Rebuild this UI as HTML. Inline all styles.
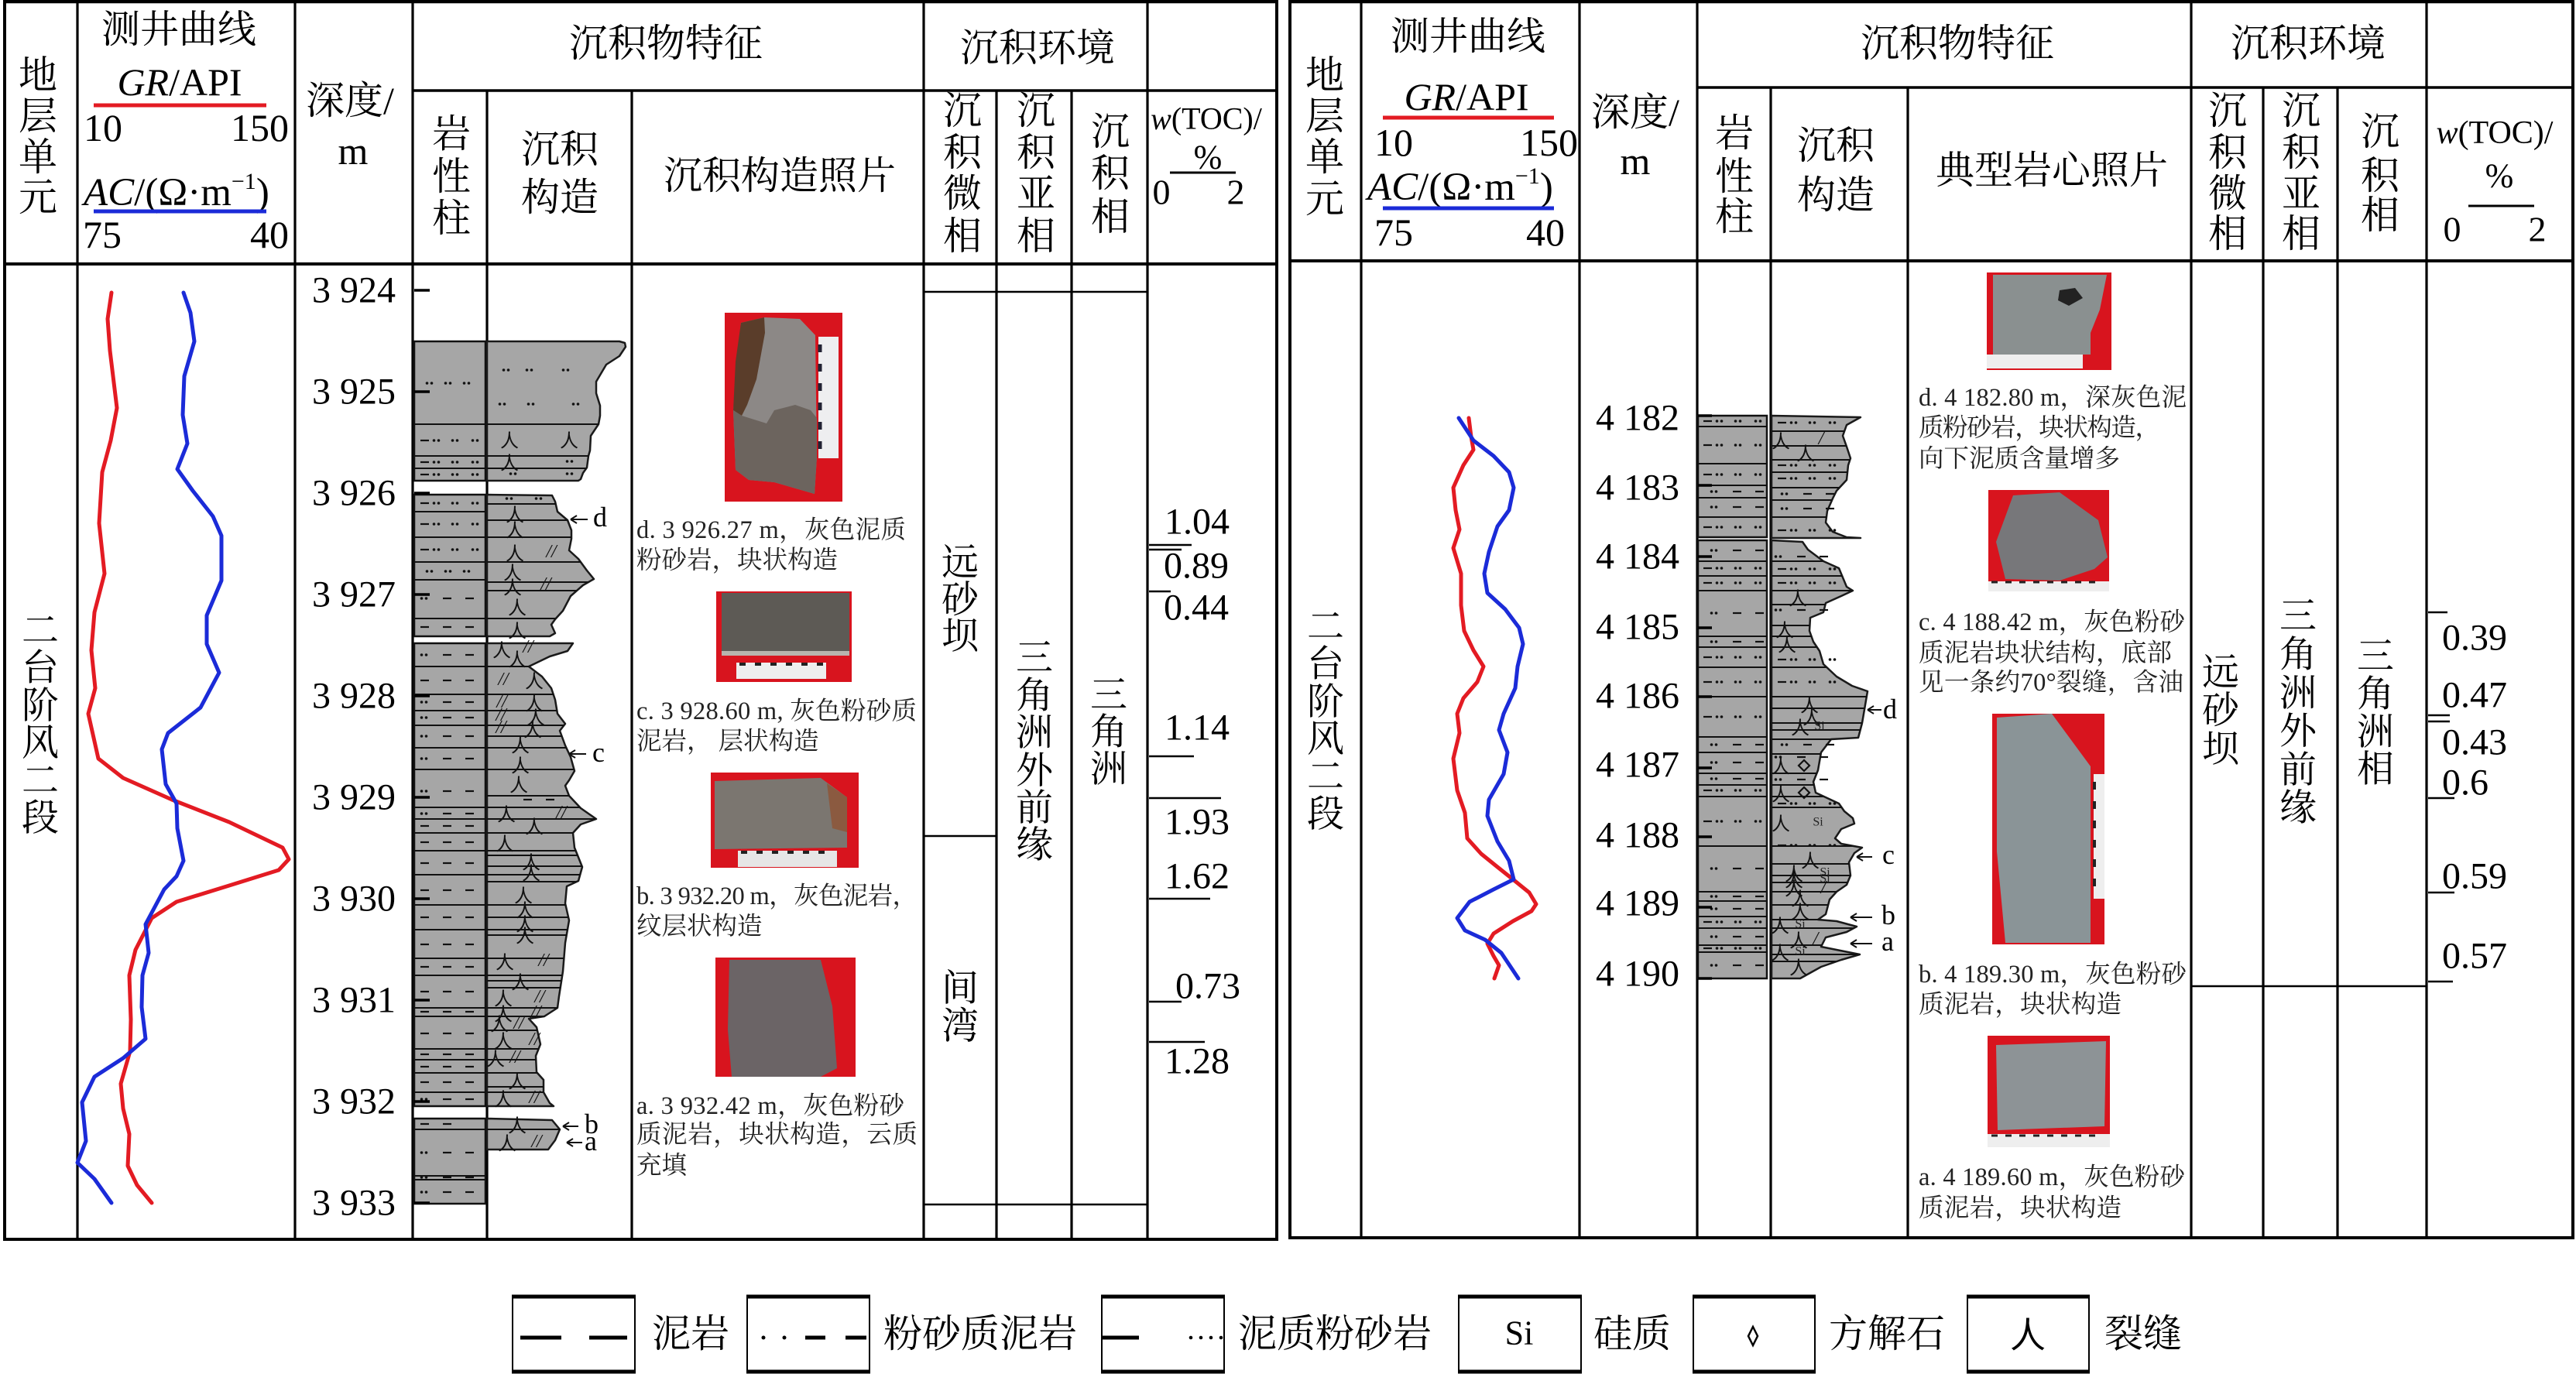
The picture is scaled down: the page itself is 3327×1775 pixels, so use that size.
<!DOCTYPE html>
<html><head><meta charset="utf-8">
<style>
html,body{margin:0;padding:0;background:#fff;width:3327px;height:1775px;overflow:hidden}
svg{display:block}
text{font-family:"Liberation Serif","Noto Serif CJK SC",serif;fill:#000}
.c{dominant-baseline:central;text-anchor:middle}
.cap{font-size:32.5px;fill:#222}
.sym{font-family:"Noto Sans CJK SC","Liberation Sans",sans-serif;font-size:24px;fill:#111;dominant-baseline:central;text-anchor:middle}
.sl{font-family:"Liberation Serif",serif;font-size:24px;fill:#111;font-style:italic;dominant-baseline:central;text-anchor:middle}
.si{font-family:"Liberation Serif",serif;font-size:16px;fill:#222;dominant-baseline:central;text-anchor:middle}
</style></head><body>
<svg width="3327" height="1775" viewBox="0 0 3327 1775" xmlns="http://www.w3.org/2000/svg" xmlns:xlink="http://www.w3.org/1999/xlink">
<defs>
 <g id="dd"><circle cx="1.5" cy="0" r="1.8" fill="#111"/><circle cx="7.5" cy="0" r="1.8" fill="#111"/></g>
 <rect id="ds" x="0" y="-1.1" width="11" height="2.2" fill="#111"/>
 <g id="ms"><use href="#ds" x="0"/><use href="#dd" x="16"/><use href="#dd" x="40"/><use href="#dd" x="66"/></g>
 <g id="sm"><use href="#dd" x="0"/><use href="#ds" x="29"/><use href="#ds" x="58"/></g>
 <g id="mm"><use href="#ds" x="0"/><use href="#ds" x="29"/><use href="#ds" x="58"/></g>
 <g id="m2"><use href="#ds" x="0"/><use href="#ds" x="29"/></g>
 <g id="st"><use href="#dd" x="7"/><use href="#dd" x="31"/><use href="#dd" x="55"/></g>

 <clipPath id="cp1"><polygon points="629,441 800,441 807,443 808,448 800,460 783,471 770,493 770,508 775,524 775,537 773,548 763,563 762,582 760,589 758,604 753,611 750,619 747,621 629,621"/></clipPath>
 <clipPath id="cp2"><polygon points="629,639 713,640 717,648 720,661 733,672 738,685 738,696 735,711 747,722 758,737 767,748 753,756 737,770 727,789 717,800 712,807 717,818 710,822 629,822"/></clipPath>
 <clipPath id="cp3"><polygon points="629,831 740,831 733,841 710,848 683,861 700,874 712,889 717,904 720,922 730,935 723,944 730,963 737,978 742,996 735,1008 730,1015 735,1028 750,1044 770,1058 750,1065 740,1076 742,1095 752,1120 747,1138 732,1145 730,1167 735,1189 730,1218 727,1255 722,1287 720,1302 703,1313 683,1316 693,1327 698,1349 692,1364 693,1385 702,1395 702,1411 710,1425 715,1429 629,1429"/></clipPath>
 <clipPath id="cp4"><polygon points="629,1445 713,1447 723,1459 717,1473 708,1485 629,1485"/></clipPath>
 <clipPath id="rp1"><polygon points="2288,537 2403,539 2385,549 2380,563 2385,577 2390,592 2387,601 2385,620 2372,634 2367,644 2360,660 2358,675 2367,687 2385,694 2403,695 2288,695"/></clipPath>
 <clipPath id="rp2"><polygon points="2288,698 2328,700 2335,710 2355,725 2375,734 2385,758 2393,763 2378,770 2358,779 2355,791 2338,798 2337,815 2342,829 2350,841 2355,858 2372,874 2392,886 2412,893 2405,934 2400,953 2365,955 2352,972 2348,995 2342,1010 2345,1024 2375,1038 2382,1048 2393,1057 2395,1064 2378,1071 2370,1083 2378,1090 2405,1095 2395,1102 2388,1114 2390,1131 2385,1143 2372,1152 2363,1162 2358,1181 2348,1188 2372,1190 2398,1197 2385,1204 2358,1211 2352,1223 2402,1233 2378,1240 2352,1249 2325,1264 2288,1264"/></clipPath>
</defs>

<rect width="3327" height="1775" fill="#fff"/>

<!-- ================= LEFT PANEL FRAME ================= -->
<g stroke="#000" fill="none">
 <line x1="4" y1="2" x2="1651" y2="2" stroke-width="4.5"/>
 <line x1="6" y1="0" x2="6" y2="1603" stroke-width="4"/>
 <line x1="1649" y1="0" x2="1649" y2="1603" stroke-width="4"/>
 <line x1="4" y1="1601" x2="1651" y2="1601" stroke-width="4"/>
 <line x1="4" y1="341" x2="1651" y2="341" stroke-width="4"/>
 <line x1="533" y1="117" x2="1651" y2="117" stroke-width="3.5"/>
 <g stroke-width="3.2">
  <line x1="100" y1="0" x2="100" y2="1601"/>
  <line x1="381" y1="0" x2="381" y2="1601"/>
  <line x1="533" y1="0" x2="533" y2="1601"/>
  <line x1="629" y1="117" x2="629" y2="1601"/>
  <line x1="816" y1="117" x2="816" y2="1601"/>
  <line x1="1193" y1="0" x2="1193" y2="1601"/>
  <line x1="1287" y1="117" x2="1287" y2="1601"/>
  <line x1="1384" y1="117" x2="1384" y2="1601"/>
  <line x1="1482" y1="0" x2="1482" y2="1601"/>
 </g>
</g>

<!-- ================= RIGHT PANEL FRAME ================= -->
<g stroke="#000" fill="none">
 <line x1="1664" y1="2" x2="3325" y2="2" stroke-width="4.5"/>
 <line x1="1666" y1="0" x2="1666" y2="1601" stroke-width="4"/>
 <line x1="3323" y1="0" x2="3323" y2="1601" stroke-width="4"/>
 <line x1="1664" y1="1599" x2="3325" y2="1599" stroke-width="4"/>
 <line x1="1664" y1="337" x2="3325" y2="337" stroke-width="4"/>
 <line x1="2192" y1="113" x2="3325" y2="113" stroke-width="3.5"/>
 <g stroke-width="3.2">
  <line x1="1758" y1="0" x2="1758" y2="1599"/>
  <line x1="2040" y1="0" x2="2040" y2="1599"/>
  <line x1="2192" y1="0" x2="2192" y2="1599"/>
  <line x1="2287" y1="113" x2="2287" y2="1599"/>
  <line x1="2464" y1="113" x2="2464" y2="1599"/>
  <line x1="2830" y1="0" x2="2830" y2="1599"/>
  <line x1="2923" y1="113" x2="2923" y2="1599"/>
  <line x1="3019" y1="113" x2="3019" y2="1599"/>
  <line x1="3134" y1="0" x2="3134" y2="1599"/>
 </g>
</g>

<!-- ================= LEFT HEADER TEXT ================= -->
<g font-size="50">
 <text class="c" x="49" y="97">地</text><text class="c" x="49" y="150">层</text><text class="c" x="49" y="203">单</text><text class="c" x="49" y="255">元</text>
 <text class="c" x="231" y="38">测井曲线</text>
 <text x="232" y="123" text-anchor="middle"><tspan font-style="italic">GR</tspan>/API</text>
 <text x="108" y="182">10</text><text x="373" y="182" text-anchor="end">150</text>
 <text x="108" y="265" font-size="51"><tspan font-style="italic">AC</tspan>/(Ω·m<tspan font-size="30" dy="-21">−1</tspan><tspan dy="21">)</tspan></text>
 <text x="107" y="320">75</text><text x="373" y="320" text-anchor="end">40</text>
 <text class="c" x="452" y="130">深度/</text>
 <text x="456" y="212" text-anchor="middle">m</text>
 <text class="c" x="860" y="56">沉积物特征</text>
 <text class="c" x="1340" y="62">沉积环境</text>
 <text class="c" x="583" y="173">岩</text><text class="c" x="583" y="228">性</text><text class="c" x="583" y="282">柱</text>
 <text class="c" x="723" y="193">沉积</text><text class="c" x="723" y="255">构造</text>
 <text class="c" x="1007" y="227">沉积构造照片</text>
 <text class="c" x="1243" y="143">沉</text><text class="c" x="1243" y="197">积</text><text class="c" x="1243" y="250">微</text><text class="c" x="1243" y="305">相</text>
 <text class="c" x="1338" y="143">沉</text><text class="c" x="1338" y="197">积</text><text class="c" x="1338" y="250">亚</text><text class="c" x="1338" y="305">相</text>
 <text class="c" x="1434" y="170">沉</text><text class="c" x="1434" y="224">积</text><text class="c" x="1434" y="280">相</text>
 <text class="c" x="1558" y="153" font-size="40"><tspan font-style="italic">w</tspan>(TOC)/</text>
 <text class="c" x="1560" y="203" font-size="44">%</text>
 <text class="c" x="1500" y="248" font-size="46">0</text><text class="c" x="1596" y="248" font-size="46">2</text>
</g>
<line x1="121" y1="136" x2="344" y2="136" stroke="#e31b23" stroke-width="5"/>
<line x1="121" y1="273" x2="344" y2="273" stroke="#1b2bd8" stroke-width="5"/>
<line x1="1511" y1="223" x2="1596" y2="223" stroke="#000" stroke-width="3"/>

<!-- ================= RIGHT HEADER TEXT ================= -->
<g font-size="50">
 <text class="c" x="1711" y="97">地</text><text class="c" x="1711" y="150">层</text><text class="c" x="1711" y="203">单</text><text class="c" x="1711" y="257">元</text>
 <text class="c" x="1896" y="47">测井曲线</text>
 <text x="1894" y="142" text-anchor="middle"><tspan font-style="italic">GR</tspan>/API</text>
 <text x="1775" y="201">10</text><text x="2038" y="201" text-anchor="end">150</text>
 <text x="1766" y="258" font-size="51"><tspan font-style="italic">AC</tspan>/(Ω·m<tspan font-size="30" dy="-21">−1</tspan><tspan dy="21">)</tspan></text>
 <text x="1775" y="317">75</text><text x="2021" y="317" text-anchor="end">40</text>
 <text class="c" x="2112" y="145">深度/</text>
 <text x="2112" y="225" text-anchor="middle">m</text>
 <text class="c" x="2528" y="56">沉积物特征</text>
 <text class="c" x="2981" y="56">沉积环境</text>
 <text class="c" x="2240" y="172">岩</text><text class="c" x="2240" y="228">性</text><text class="c" x="2240" y="280">柱</text>
 <text class="c" x="2371" y="188">沉积</text><text class="c" x="2371" y="252">构造</text>
 <text class="c" x="2650" y="220">典型岩心照片</text>
 <text class="c" x="2877" y="143">沉</text><text class="c" x="2877" y="197">积</text><text class="c" x="2877" y="250">微</text><text class="c" x="2877" y="302">相</text>
 <text class="c" x="2972" y="143">沉</text><text class="c" x="2972" y="197">积</text><text class="c" x="2972" y="250">亚</text><text class="c" x="2972" y="302">相</text>
 <text class="c" x="3074" y="170">沉</text><text class="c" x="3074" y="227">积</text><text class="c" x="3074" y="278">相</text>
 <text class="c" x="3222" y="172" font-size="42"><tspan font-style="italic">w</tspan>(TOC)/</text>
 <text class="c" x="3228" y="227" font-size="44">%</text>
 <text class="c" x="3167" y="296" font-size="46">0</text><text class="c" x="3277" y="296" font-size="46">2</text>
</g>
<line x1="1786" y1="152" x2="2007" y2="152" stroke="#e31b23" stroke-width="5"/>
<line x1="1786" y1="269" x2="2007" y2="269" stroke="#1b2bd8" stroke-width="5"/>
<line x1="3188" y1="266" x2="3273" y2="266" stroke="#000" stroke-width="3"/>

<!-- ================= STRAT LABELS ================= -->
<g font-size="48">
 <text class="c" x="52" y="815">二</text><text class="c" x="52" y="863">台</text><text class="c" x="52" y="912">阶</text><text class="c" x="52" y="960">风</text><text class="c" x="52" y="1009">二</text><text class="c" x="52" y="1057">段</text>
 <text class="c" x="1712" y="810">二</text><text class="c" x="1712" y="858">台</text><text class="c" x="1712" y="907">阶</text><text class="c" x="1712" y="955">风</text><text class="c" x="1712" y="1004">二</text><text class="c" x="1712" y="1052">段</text>
</g>

<!-- ================= CURVES ================= -->
<g fill="none" stroke-width="5" stroke-linejoin="round" stroke-linecap="round">
 <polyline stroke="#e31b23" points="144,378 139,412 142,453 151,527 143,569 132,610 128,676 135,741 122,791 118,840 123,889 114,922 127,980 159,1005 222,1033 296,1062 365,1095 373,1110 360,1124 296,1144 228,1165 196,1186 175,1227 167,1260 169,1317 168,1358 156,1400 159,1432 167,1465 165,1506 177,1531 196,1554"/>
 <polyline stroke="#1b2bd8" points="237,378 246,404 251,441 238,486 236,536 242,573 229,606 249,634 275,667 286,692 286,750 267,795 267,832 283,869 259,914 217,947 209,968 214,1013 228,1038 229,1070 237,1112 228,1132 212,1149 188,1194 192,1231 184,1260 183,1301 188,1342 159,1367 122,1391 106,1424 111,1474 100,1502 122,1523 144,1554"/>
 <polyline stroke="#e31b23" points="1897,540 1900,564 1903,581 1890,601 1877,630 1880,659 1885,684 1877,708 1887,741 1887,782 1891,815 1903,840 1916,861 1908,881 1890,902 1882,922 1885,947 1877,980 1882,1021 1892,1050 1895,1083 1913,1103 1934,1120 1954,1136 1975,1153 1984,1168 1978,1177 1954,1190 1929,1206 1921,1219 1929,1235 1936,1247 1930,1264"/>
 <polyline stroke="#1b2bd8" points="1884,540 1903,569 1929,589 1949,610 1955,630 1949,659 1934,680 1923,713 1917,741 1921,766 1944,787 1962,811 1967,832 1960,861 1957,889 1942,922 1936,943 1947,972 1942,1000 1923,1033 1921,1054 1934,1087 1949,1112 1955,1136 1929,1149 1898,1165 1882,1186 1892,1202 1918,1214 1939,1231 1961,1264"/>
</g>

<!-- ================= DEPTH LABELS ================= -->
<g font-size="48">
 <text class="c" x="511" y="375" style="text-anchor:end">3 924</text>
 <text class="c" x="511" y="506" style="text-anchor:end">3 925</text>
 <text class="c" x="511" y="637" style="text-anchor:end">3 926</text>
 <text class="c" x="511" y="768" style="text-anchor:end">3 927</text>
 <text class="c" x="511" y="899" style="text-anchor:end">3 928</text>
 <text class="c" x="511" y="1030" style="text-anchor:end">3 929</text>
 <text class="c" x="511" y="1161" style="text-anchor:end">3 930</text>
 <text class="c" x="511" y="1292" style="text-anchor:end">3 931</text>
 <text class="c" x="511" y="1423" style="text-anchor:end">3 932</text>
 <text class="c" x="511" y="1554" style="text-anchor:end">3 933</text>
 <text class="c" x="2169" y="540" style="text-anchor:end">4 182</text>
 <text class="c" x="2169" y="630" style="text-anchor:end">4 183</text>
 <text class="c" x="2169" y="719" style="text-anchor:end">4 184</text>
 <text class="c" x="2169" y="810" style="text-anchor:end">4 185</text>
 <text class="c" x="2169" y="899" style="text-anchor:end">4 186</text>
 <text class="c" x="2169" y="988" style="text-anchor:end">4 187</text>
 <text class="c" x="2169" y="1079" style="text-anchor:end">4 188</text>
 <text class="c" x="2169" y="1167" style="text-anchor:end">4 189</text>
 <text class="c" x="2169" y="1258" style="text-anchor:end">4 190</text>
</g>

<!-- ================= LEFT LITHOLOGY COLUMN ================= -->
<g fill="#a6a6a6" stroke="#111" stroke-width="2.5">
 <rect x="535" y="441" width="92" height="180"/>
 <rect x="535" y="639" width="92" height="183"/>
 <rect x="535" y="831" width="92" height="598"/>
 <rect x="535" y="1445" width="92" height="110"/>
</g>
<g stroke="#111" stroke-width="2">
 <path d="M535 548H627M535 589H627M535 605H627 M535 661H627M535 694H627M535 726H627M535 749H627M535 799H627 M535 861H627M535 897H627M535 918H627M535 937H627M535 966H627M535 994H627M535 1043H627M535 1058H627M535 1076H627M535 1099H627M535 1130H627M535 1169H627M535 1201H627M535 1238H627M535 1260H627M535 1302H627M535 1313H627M535 1355H627M535 1369H627M535 1386H627M535 1411H627 M535 1459H627M535 1519H627M535 1524H627"/>
</g>
<g>
 <use href="#st" x="543" y="495"/><use href="#ms" x="543" y="569"/><use href="#ms" x="543" y="597"/><use href="#ms" x="543" y="613"/>
 <use href="#ms" x="543" y="650"/><use href="#ms" x="543" y="677"/><use href="#ms" x="543" y="710"/><use href="#st" x="543" y="738"/><use href="#sm" x="543" y="773"/><use href="#mm" x="543" y="810"/>
 <use href="#sm" x="543" y="846"/><use href="#mm" x="543" y="879"/><use href="#sm" x="543" y="907"/><use href="#sm" x="543" y="927"/><use href="#sm" x="543" y="951"/><use href="#sm" x="543" y="980"/><use href="#sm" x="543" y="1022"/><use href="#sm" x="543" y="1051"/><use href="#mm" x="543" y="1067"/><use href="#mm" x="543" y="1088"/><use href="#mm" x="543" y="1115"/><use href="#mm" x="543" y="1150"/><use href="#mm" x="543" y="1185"/><use href="#mm" x="543" y="1220"/><use href="#mm" x="543" y="1249"/><use href="#mm" x="543" y="1281"/><use href="#mm" x="543" y="1307"/><use href="#mm" x="543" y="1335"/><use href="#mm" x="543" y="1362"/><use href="#mm" x="543" y="1378"/><use href="#mm" x="543" y="1398"/><use href="#sm" x="543" y="1420"/>
 <use href="#m2" x="543" y="1452"/><use href="#sm" x="543" y="1489"/><use href="#sm" x="543" y="1521"/><use href="#sm" x="543" y="1540"/>
</g>
<g stroke="#000" stroke-width="3.5">
 <path d="M535 375H555M535 506H555M535 637H555M535 768H555M535 899H555M535 1030H555M535 1161H555M535 1292H555M535 1423H555M535 1554H555"/>
</g>

<!-- ================= LEFT STRUCTURE COLUMN ================= -->
<g fill="#a6a6a6" stroke="#1a1a1a" stroke-width="2.5" stroke-linejoin="round">
 <polygon points="629,441 800,441 807,443 808,448 800,460 783,471 770,493 770,508 775,524 775,537 773,548 763,563 762,582 760,589 758,604 753,611 750,619 747,621 629,621"/>
 <polygon points="629,639 713,640 717,648 720,661 733,672 738,685 738,696 735,711 747,722 758,737 767,748 753,756 737,770 727,789 717,800 712,807 717,818 710,822 629,822"/>
 <polygon points="629,831 740,831 733,841 710,848 683,861 700,874 712,889 717,904 720,922 730,935 723,944 730,963 737,978 742,996 735,1008 730,1015 735,1028 750,1044 770,1058 750,1065 740,1076 742,1095 752,1120 747,1138 732,1145 730,1167 735,1189 730,1218 727,1255 722,1287 720,1302 703,1313 683,1316 693,1327 698,1349 692,1364 693,1385 702,1395 702,1411 710,1425 715,1429 629,1429"/>
 <polygon points="629,1445 713,1447 723,1459 717,1473 708,1485 629,1485"/>
</g>
<g stroke="#111" stroke-width="2">
 <path clip-path="url(#cp1)" d="M629 548H820M629 589H820M629 605H820"/>
 <path clip-path="url(#cp2)" d="M629 651H820M629 672H820M629 694H820M629 726H820M629 752H820M629 763H820M629 799H820"/>
 <path clip-path="url(#cp3)" d="M629 861H820M629 897H820M629 918H820M629 937H820M629 951H820M629 966H820M629 994H820M629 1028H820M629 1043H820M629 1058H820M629 1076H820M629 1099H820M629 1105H820M629 1119H820M629 1130H820M629 1139H820M629 1169H820M629 1185H820M629 1201H820M629 1208H820M629 1238H820M629 1260H820M629 1267H820M629 1276H820M629 1302H820M629 1313H820M629 1331H820M629 1355H820M629 1369H820M629 1386H820M629 1404H820M629 1411H820"/>
 <path clip-path="url(#cp4)" d="M629 1459H820"/>
</g>
<g>
 <use href="#dd" x="649" y="478"/><use href="#dd" x="679" y="478"/><use href="#dd" x="726" y="478"/>
 <use href="#dd" x="644" y="522"/><use href="#dd" x="681" y="522"/><use href="#dd" x="739" y="522"/>
 <use href="#dd" x="731" y="596"/><use href="#dd" x="658" y="612"/><use href="#dd" x="731" y="612"/>
 <use href="#dd" x="653" y="644"/><use href="#dd" x="691" y="644"/>
 <use href="#ds" x="676" y="1033"/><use href="#ds" x="705" y="1033"/>
</g>
<g class="sym">
 <text class="sym" x="658" y="567">人</text><text class="sym" x="735" y="567">人</text><text class="sym" x="658" y="596">人</text>
 <text class="sym" x="665" y="663">人</text><text class="sym" x="665" y="683">人</text><text class="sym" x="665" y="713">人</text><text class="sym" x="662" y="738">人</text><text class="sym" x="662" y="757" font-size="18">人</text><text class="sym" x="668" y="783">人</text><text class="sym" x="668" y="813">人</text>
 <text class="sym" x="648" y="838" font-size="18">人</text><text class="sym" x="668" y="850">人</text><text class="sym" x="690" y="878">人</text><text class="sym" x="690" y="907">人</text><text class="sym" x="692" y="925">人</text><text class="sym" x="688" y="941">人</text><text class="sym" x="672" y="961">人</text><text class="sym" x="672" y="987">人</text>
 <text class="sym" x="670" y="1012">人</text><text class="sym" x="654" y="1050">人</text><text class="sym" x="690" y="1066">人</text><text class="sym" x="652" y="1088">人</text><text class="sym" x="686" y="1112">人</text><text class="sym" x="686" y="1126">人</text><text class="sym" x="676" y="1155">人</text><text class="sym" x="678" y="1174">人</text><text class="sym" x="678" y="1192">人</text><text class="sym" x="678" y="1207">人</text>
 <text class="sym" x="652" y="1241">人</text><text class="sym" x="672" y="1267" font-size="16">人</text><text class="sym" x="650" y="1288">人</text><text class="sym" x="650" y="1308">人</text><text class="sym" x="645" y="1321">人</text><text class="sym" x="650" y="1343">人</text><text class="sym" x="640" y="1366">人</text><text class="sym" x="668" y="1395">人</text><text class="sym" x="650" y="1418">人</text>
 <text class="sym" x="668" y="1452">人</text><text class="sym" x="655" y="1475">人</text>
</g>
<g>
 <text class="sl" x="712" y="713">//</text><text class="sl" x="705" y="755">//</text><text class="sl" x="682" y="836">//</text>
 <text class="sl" x="650" y="878">//</text><text class="sl" x="648" y="907">//</text><text class="sl" x="647" y="924">//</text><text class="sl" x="647" y="940">//</text>
 <text class="sl" x="725" y="1050">//</text><text class="sl" x="702" y="1241">//</text><text class="sl" x="697" y="1288">//</text><text class="sl" x="692" y="1308">//</text><text class="sl" x="670" y="1322">//</text><text class="sl" x="690" y="1343">//</text><text class="sl" x="665" y="1366">//</text><text class="sl" x="690" y="1418">//</text><text class="sl" x="693" y="1475">//</text>
</g>
<g stroke="#111" stroke-width="2" fill="none">
 <path d="M737 671H759M737 671l8 -5M737 671l8 5"/>
 <path d="M735 974H757M735 974l8 -5M735 974l8 5"/>
 <path d="M727 1455H747M727 1455l8 -5M727 1455l8 5"/>
 <path d="M732 1476H752M732 1476l8 -5M732 1476l8 5"/>
</g>
<g font-size="36">
 <text class="c" x="775" y="668">d</text><text class="c" x="773" y="972">c</text><text class="c" x="764" y="1452">b</text><text class="c" x="763" y="1474">a</text>
</g>

<!-- ================= RIGHT LITHOLOGY COLUMN ================= -->
<g fill="#a6a6a6" stroke="#111" stroke-width="2.5">
 <rect x="2193" y="537" width="89" height="157"/>
 <rect x="2193" y="698" width="89" height="566"/>
</g>
<g stroke="#111" stroke-width="2">
 <path d="M2193 551H2282M2193 599H2282M2193 627H2282M2193 643H2282M2193 668H2282 M2193 725H2282M2193 744H2282M2193 763H2282M2193 822H2282M2193 836H2282M2193 862H2282M2193 900H2282M2193 952H2282M2193 972H2282M2193 999H2282M2193 1014H2282M2193 1029H2282M2193 1093H2282M2193 1152H2282M2193 1164H2282M2193 1184H2282M2193 1199H2282M2193 1221H2282M2193 1230H2282"/>
</g>
<g>
 <use href="#ms" x="2200" y="544"/><use href="#ms" x="2200" y="575"/><use href="#ms" x="2200" y="613"/><use href="#sm" x="2209" y="635"/><use href="#sm" x="2209" y="655"/><use href="#ms" x="2200" y="681"/>
 <use href="#sm" x="2209" y="711"/><use href="#ms" x="2200" y="734"/><use href="#ms" x="2200" y="753"/><use href="#sm" x="2209" y="792"/><use href="#sm" x="2209" y="829"/><use href="#ms" x="2200" y="849"/><use href="#ms" x="2200" y="881"/><use href="#ms" x="2200" y="926"/><use href="#sm" x="2209" y="962"/><use href="#sm" x="2209" y="985"/><use href="#sm" x="2209" y="1006"/><use href="#ms" x="2200" y="1021"/><use href="#ms" x="2200" y="1061"/><use href="#sm" x="2209" y="1122"/><use href="#sm" x="2209" y="1158"/><use href="#sm" x="2209" y="1174"/><use href="#ms" x="2200" y="1191"/><use href="#sm" x="2209" y="1210"/><use href="#ms" x="2200" y="1225"/><use href="#sm" x="2209" y="1247"/>
</g>
<g stroke="#000" stroke-width="3.5">
 <path d="M2193 537H2211M2193 627H2211M2193 719H2211M2193 811H2211M2193 900H2211M2193 992H2211M2193 1081H2211M2193 1172H2211M2193 1264H2211"/>
</g>

<!-- ================= RIGHT STRUCTURE COLUMN ================= -->
<g fill="#a6a6a6" stroke="#1a1a1a" stroke-width="2.5" stroke-linejoin="round">
 <polygon points="2288,537 2403,539 2385,549 2380,563 2385,577 2390,592 2387,601 2385,620 2372,634 2367,644 2360,660 2358,675 2367,687 2385,694 2403,695 2288,695"/>
 <polygon points="2288,698 2328,700 2335,710 2355,725 2375,734 2385,758 2393,763 2378,770 2358,779 2355,791 2338,798 2337,815 2342,829 2350,841 2355,858 2372,874 2392,886 2412,893 2405,934 2400,953 2365,955 2352,972 2348,995 2342,1010 2345,1024 2375,1038 2382,1048 2393,1057 2395,1064 2378,1071 2370,1083 2378,1090 2405,1095 2395,1102 2388,1114 2390,1131 2385,1143 2372,1152 2363,1162 2358,1181 2348,1188 2372,1190 2398,1197 2385,1204 2358,1211 2352,1223 2402,1233 2378,1240 2352,1249 2325,1264 2288,1264"/>
</g>
<g stroke="#111" stroke-width="2">
 <path clip-path="url(#rp1)" d="M2288 557H2420M2288 576H2420M2288 594H2420M2288 610H2420M2288 630H2420M2288 646H2420M2288 668H2420"/>
 <path clip-path="url(#rp2)" d="M2288 725H2420M2288 744H2420M2288 763H2420M2288 781H2420M2288 808H2420M2288 822H2420M2288 836H2420M2288 862H2420M2288 900H2420M2288 915H2420M2288 934H2420M2288 943H2420M2288 955H2420M2288 974H2420M2288 999H2420M2288 1014H2420M2288 1029H2420M2288 1043H2420M2288 1093H2420M2288 1116H2420M2288 1131H2420M2288 1140H2420M2288 1152H2420M2288 1169H2420M2288 1188H2420M2288 1199H2420M2288 1221H2420M2288 1233H2420M2288 1242H2420"/>
</g>
<g>
 <use href="#ms" x="2296" y="546"/><use href="#ms" x="2296" y="601"/><use href="#ms" x="2296" y="618"/><use href="#sm" x="2300" y="638"/><use href="#sm" x="2300" y="657"/><use href="#ms" x="2296" y="685"/>
 <use href="#sm" x="2292" y="719"/><use href="#ms" x="2296" y="735"/><use href="#ms" x="2296" y="753"/><use href="#sm" x="2292" y="788"/><use href="#ms" x="2296" y="852"/><use href="#ms" x="2296" y="881"/><use href="#sm" x="2300" y="962"/><use href="#sm" x="2292" y="978"/><use href="#sm" x="2292" y="1007"/><use href="#ms" x="2296" y="1038"/><use href="#ms" x="2296" y="1092"/>
</g>
<g>
 <text class="sym" x="2300" y="568">人</text><text class="sym" x="2332" y="584">人</text>
 <text class="sym" x="2322" y="771">人</text><text class="sym" x="2305" y="812">人</text><text class="sym" x="2308" y="831" font-size="18">人</text>
 <text class="sym" x="2337" y="909">人</text><text class="sym" x="2340" y="925">人</text><text class="sym" x="2325" y="938" font-size="18">人</text>
 <text class="sym" x="2300" y="988">人</text><text class="sym" x="2300" y="1024">人</text><text class="sym" x="2300" y="1062">人</text>
 <text class="sym" x="2338" y="1110">人</text><text class="sym" x="2317" y="1127" font-size="16">人</text><text class="sym" x="2317" y="1135" font-size="16">人</text><text class="sym" x="2317" y="1146" font-size="16">人</text>
 <text class="sym" x="2325" y="1159">人</text><text class="sym" x="2325" y="1176">人</text><text class="sym" x="2299" y="1194">人</text><text class="sym" x="2323" y="1213">人</text><text class="sym" x="2299" y="1229">人</text><text class="sym" x="2323" y="1248">人</text>
 <text class="si" x="2350" y="938" font-size="11">Si</text><text class="si" x="2348" y="1062" font-size="18">Si</text><text class="si" x="2357" y="1127" font-size="11">Si</text><text class="si" x="2357" y="1135" font-size="11">Si</text><text class="si" x="2325" y="1194" font-size="11">Si</text><text class="si" x="2325" y="1229" font-size="11">Si</text>
 <text class="sl" x="2352" y="567" font-size="20">/</text><text class="sl" x="2355" y="1147" font-size="18">/</text><text class="sl" x="2345" y="1213" font-size="20">/</text>
</g>
<g fill="none" stroke="#111" stroke-width="2.2">
 <polygon points="2330,982 2337,989 2330,996 2323,989"/>
 <polygon points="2330,1017 2337,1024 2330,1031 2323,1024"/>
</g>
<g stroke="#111" stroke-width="2" fill="none">
 <path d="M2412 917H2430M2412 917l8 -5M2412 917l8 5"/>
 <path d="M2398 1107H2418M2398 1107l8 -5M2398 1107l8 5"/>
 <path d="M2390 1185H2418M2390 1185l8 -5M2390 1185l8 5"/>
 <path d="M2390 1219H2418M2390 1219l8 -5M2390 1219l8 5"/>
</g>
<g font-size="36">
 <text class="c" x="2441" y="916">d</text><text class="c" x="2439" y="1104">c</text><text class="c" x="2439" y="1182">b</text><text class="c" x="2438" y="1216">a</text>
</g>

<!-- ================= LEFT PHOTOS ================= -->
<g>
 <rect x="936" y="404" width="152" height="244" fill="#d8141e"/>
 <polygon points="957,417 987,410 1033,412 1053,433 1055,590 1052,638 1000,623 967,620 950,607 947,530" fill="#8c8886"/>
 <polygon points="957,417 987,410 988,430 977,490 965,523 958,537 947,530 950,467" fill="#5a3d2a"/>
 <polygon points="958,537 990,547 1000,530 1027,523 1047,530 1055,540 1055,590 1052,638 1000,623 967,620 950,607 947,530" fill="#6c645e"/>
 <rect x="1057" y="435" width="26" height="157" fill="#eeeef0"/>
 <path d="M1059 445v10M1059 470v10M1059 495v10M1059 520v10M1059 545v10M1059 570v10" stroke="#223" stroke-width="5"/>

 <rect x="925" y="764" width="175" height="117" fill="#d8141e"/>
 <rect x="932" y="766" width="165" height="77" fill="#5d5a55"/>
 <rect x="932" y="841" width="165" height="6" fill="#b8b4ad"/>
 <rect x="951" y="856" width="116" height="21" fill="#eeeeee"/>
 <path d="M955 858h8M975 858h8M995 858h8M1015 858h8M1035 858h8M1055 858h8" stroke="#222" stroke-width="4"/>

 <rect x="918" y="998" width="191" height="123" fill="#d8141e"/>
 <polygon points="923,1009 1060,1005 1094,1030 1094,1095 923,1097" fill="#7b7670"/>
 <polygon points="1068,1012 1094,1030 1094,1075 1075,1070" fill="#8b5a40"/>
 <rect x="953" y="1099" width="128" height="21" fill="#e6e6e6"/>
 <path d="M957 1101h8M977 1101h8M997 1101h8M1017 1101h8M1037 1101h8M1057 1101h8" stroke="#222" stroke-width="4"/>

 <rect x="924" y="1237" width="181" height="154" fill="#d8141e"/>
 <polygon points="942,1240 1060,1240 1075,1300 1081,1380 1060,1391 945,1391 940,1330" fill="#6b6466"/>
</g>

<!-- ================= RIGHT PHOTOS ================= -->
<g>
 <rect x="2566" y="352" width="161" height="126" fill="#d8141e"/>
 <polygon points="2574,355 2721,355 2712,400 2700,430 2700,458 2574,458" fill="#8a9090"/>
 <polygon points="2660,375 2680,372 2690,385 2672,395 2658,388" fill="#222"/>
 <rect x="2566" y="458" width="124" height="18" fill="#eeeeee"/>

 <rect x="2568" y="633" width="156" height="131" fill="#d8141e"/>
 <polygon points="2578,700 2600,640 2660,636 2710,672 2722,720 2705,735 2660,750 2590,748" fill="#77777a"/>
 <rect x="2568" y="751" width="156" height="13" fill="#eeeeee"/>
 <path d="M2572 752h8M2590 752h8M2608 752h8M2626 752h8M2644 752h8M2662 752h8M2680 752h8M2698 752h8" stroke="#222" stroke-width="3"/>

 <rect x="2573" y="922" width="145" height="298" fill="#d8141e"/>
 <polygon points="2579,927 2650,922 2700,990 2700,1218 2590,1218 2579,1100" fill="#8a9497"/>
 <rect x="2704" y="1000" width="14" height="161" fill="#eeeeee"/>
 <path d="M2705 1010v10M2705 1035v10M2705 1060v10M2705 1085v10M2705 1110v10M2705 1135v10" stroke="#222" stroke-width="4"/>

 <rect x="2567" y="1338" width="158" height="144" fill="#d8141e"/>
 <polygon points="2578,1350 2720,1345 2718,1455 2580,1460" fill="#8d9396"/>
 <rect x="2567" y="1465" width="158" height="17" fill="#eeeeee"/>
 <path d="M2572 1467h8M2590 1467h8M2608 1467h8M2626 1467h8M2644 1467h8M2662 1467h8M2680 1467h8M2698 1467h8" stroke="#222" stroke-width="3"/>
</g>

<!-- ================= CAPTIONS ================= -->
<g class="cap">
 <text class="cap" x="822" y="695" textLength="348" lengthAdjust="spacing">d. 3 926.27 m，灰色泥质</text>
 <text class="cap" x="822" y="734">粉砂岩，块状构造</text>
 <text class="cap" x="822" y="929" textLength="362" lengthAdjust="spacing">c. 3 928.60 m, 灰色粉砂质</text>
 <text class="cap" x="822" y="968">泥岩， 层状构造</text>
 <text class="cap" x="822" y="1168" textLength="363" lengthAdjust="spacing">b. 3 932.20 m，灰色泥岩，</text>
 <text class="cap" x="822" y="1207">纹层状构造</text>
 <text class="cap" x="822" y="1439" textLength="346" lengthAdjust="spacing">a. 3 932.42 m，灰色粉砂</text>
 <text class="cap" x="822" y="1476" textLength="363" lengthAdjust="spacing">质泥岩，块状构造，云质</text>
 <text class="cap" x="822" y="1516">充填</text>

 <text class="cap" x="2478" y="524" textLength="346" lengthAdjust="spacing">d. 4 182.80 m，深灰色泥</text>
 <text class="cap" x="2478" y="563" textLength="312" lengthAdjust="spacing">质粉砂岩，块状构造，</text>
 <text class="cap" x="2478" y="603">向下泥质含量增多</text>
 <text class="cap" x="2478" y="814" textLength="344" lengthAdjust="spacing">c. 4 188.42 m，灰色粉砂</text>
 <text class="cap" x="2478" y="854" textLength="327" lengthAdjust="spacing">质泥岩块状结构，底部</text>
 <text class="cap" x="2478" y="892" textLength="342" lengthAdjust="spacing">见一条约70°裂缝，含油</text>
 <text class="cap" x="2478" y="1269" textLength="346" lengthAdjust="spacing">b. 4 189.30 m，灰色粉砂</text>
 <text class="cap" x="2478" y="1308" textLength="262" lengthAdjust="spacing">质泥岩，块状构造</text>
 <text class="cap" x="2478" y="1531" textLength="344" lengthAdjust="spacing">a. 4 189.60 m，灰色粉砂</text>
 <text class="cap" x="2478" y="1571" textLength="262" lengthAdjust="spacing">质泥岩，块状构造</text>
</g>

<!-- ================= LEFT ENVIRONMENT ================= -->
<g stroke="#000" stroke-width="2.5">
 <line x1="1193" y1="377" x2="1482" y2="377"/>
 <line x1="1193" y1="1556" x2="1482" y2="1556"/>
 <line x1="1193" y1="1080" x2="1287" y2="1080"/>
</g>
<g font-size="48">
 <text class="c" x="1240" y="727">远</text><text class="c" x="1240" y="775">砂</text><text class="c" x="1240" y="822">坝</text>
 <text class="c" x="1240" y="1277">间</text><text class="c" x="1240" y="1326">湾</text>
 <text class="c" x="1336" y="850">三</text><text class="c" x="1336" y="899">角</text><text class="c" x="1336" y="947">洲</text><text class="c" x="1336" y="996">外</text><text class="c" x="1336" y="1044">前</text><text class="c" x="1336" y="1092">缘</text>
 <text class="c" x="1432" y="898">三</text><text class="c" x="1432" y="946">角</text><text class="c" x="1432" y="994">洲</text>
</g>
<g font-size="48">
 <text class="c" x="1504" y="674" style="text-anchor:start">1.04</text>
 <text class="c" x="1503" y="731" style="text-anchor:start">0.89</text>
 <text class="c" x="1503" y="785" style="text-anchor:start">0.44</text>
 <text class="c" x="1504" y="940" style="text-anchor:start">1.14</text>
 <text class="c" x="1504" y="1062" style="text-anchor:start">1.93</text>
 <text class="c" x="1504" y="1132" style="text-anchor:start">1.62</text>
 <text class="c" x="1518" y="1274" style="text-anchor:start">0.73</text>
 <text class="c" x="1504" y="1371" style="text-anchor:start">1.28</text>
</g>
<g stroke="#000" stroke-width="2.5">
 <path d="M1484 704H1539M1484 710H1526M1484 764H1512M1484 977H1542M1484 1031H1577M1484 1161H1563M1484 1294H1526M1484 1346H1556"/>
</g>

<!-- ================= RIGHT ENVIRONMENT ================= -->
<g stroke="#000" stroke-width="2.5">
 <line x1="2830" y1="1274" x2="3134" y2="1274"/>
</g>
<g font-size="48">
 <text class="c" x="2868" y="869">远</text><text class="c" x="2868" y="918">砂</text><text class="c" x="2868" y="968">坝</text>
 <text class="c" x="2968" y="796">三</text><text class="c" x="2968" y="846">角</text><text class="c" x="2968" y="896">洲</text><text class="c" x="2968" y="945">外</text><text class="c" x="2968" y="995">前</text><text class="c" x="2968" y="1044">缘</text>
 <text class="c" x="3068" y="848">三</text><text class="c" x="3068" y="897">角</text><text class="c" x="3068" y="946">洲</text><text class="c" x="3068" y="994">相</text>
</g>
<g font-size="48">
 <text class="c" x="3154" y="824" style="text-anchor:start">0.39</text>
 <text class="c" x="3154" y="898" style="text-anchor:start">0.47</text>
 <text class="c" x="3154" y="959" style="text-anchor:start">0.43</text>
 <text class="c" x="3154" y="1011" style="text-anchor:start">0.6</text>
 <text class="c" x="3154" y="1132" style="text-anchor:start">0.59</text>
 <text class="c" x="3154" y="1235" style="text-anchor:start">0.57</text>
</g>
<g stroke="#000" stroke-width="2.5">
 <path d="M3136 791H3161M3136 924H3164M3136 932H3164M3136 1031H3170M3136 1153H3170M3136 1268H3168"/>
</g>

<!-- ================= LEGEND ================= -->
<g stroke="#000" fill="none">
 <g stroke-width="2">
  <line x1="662" y1="1675" x2="662" y2="1773"/><line x1="820" y1="1675" x2="820" y2="1773"/>
  <line x1="965" y1="1675" x2="965" y2="1773"/><line x1="1123" y1="1675" x2="1123" y2="1773"/>
  <line x1="1423" y1="1675" x2="1423" y2="1773"/><line x1="1581" y1="1675" x2="1581" y2="1773"/>
  <line x1="1884" y1="1675" x2="1884" y2="1773"/><line x1="2042" y1="1675" x2="2042" y2="1773"/>
  <line x1="2187" y1="1675" x2="2187" y2="1773"/><line x1="2344" y1="1675" x2="2344" y2="1773"/>
  <line x1="2541" y1="1675" x2="2541" y2="1773"/><line x1="2698" y1="1675" x2="2698" y2="1773"/>
 </g>
 <g stroke-width="5">
  <path d="M661 1675H821M661 1772H821 M964 1675H1124M964 1772H1124 M1422 1675H1582M1422 1772H1582 M1883 1675H2043M1883 1772H2043 M2186 1675H2345M2186 1772H2345 M2540 1675H2699M2540 1772H2699"/>
  <path d="M672 1728H725M761 1728H810"/>
  <path d="M1040 1728H1066M1092 1728H1119"/>
  <path d="M1424 1728H1471"/>
 </g>
 <polygon points="2264,1714 2270,1726 2264,1738 2258,1726" stroke-width="2.5"/>
</g>
<g fill="#000">
 <circle cx="986" cy="1728" r="2.5"/><circle cx="1013" cy="1728" r="2.5"/>
 <circle cx="1538" cy="1728" r="2.3"/><circle cx="1551" cy="1728" r="2.3"/><circle cx="1564" cy="1728" r="2.3"/><circle cx="1577" cy="1728" r="2.3"/>
</g>
<text class="c" x="1962" y="1722" font-size="44">Si</text>
<text class="c" x="2619" y="1722" font-size="46" style="font-family:'Noto Sans CJK SC',sans-serif">人</text>
<g font-size="50">
 <text class="c" x="842" y="1723" style="text-anchor:start">泥岩</text>
 <text class="c" x="1141" y="1723" style="text-anchor:start">粉砂质泥岩</text>
 <text class="c" x="1599" y="1723" style="text-anchor:start">泥质粉砂岩</text>
 <text class="c" x="2058" y="1723" style="text-anchor:start">硅质</text>
 <text class="c" x="2362" y="1723" style="text-anchor:start">方解石</text>
 <text class="c" x="2718" y="1723" style="text-anchor:start">裂缝</text>
</g>
</svg>
</body></html>
